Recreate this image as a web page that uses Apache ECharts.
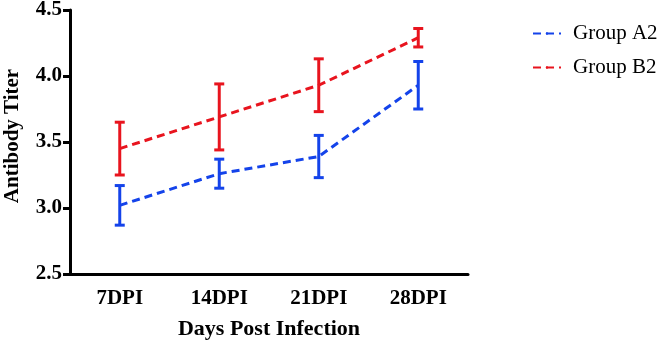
<!DOCTYPE html>
<html><head><meta charset="utf-8">
<script src="https://cdn.jsdelivr.net/npm/echarts@6/dist/echarts.min.js"></script>
<style>html,body{margin:0;padding:0;background:#fff}#c{width:660px;height:343px}</style>
</head><body><div id="c"></div>
<script>
var categories = ['7DPI', '14DPI', '21DPI', '28DPI'];
var groupA2Mean = [3.02, 3.26, 3.39, 3.93];
var groupA2Err = [0.15, 0.11, 0.16, 0.18];
var groupB2Mean = [3.45, 3.69, 3.93, 4.29];
var groupB2Err = [0.20, 0.25, 0.20, 0.07];
var yTicks = [2.5, 3.0, 3.5, 4.0, 4.5];

var blue = '#1443ea', red = '#e8141e';
var serif = 'Liberation Serif';

function errData(mean, err) {
  return mean.map(function (m, i) { return [i, m - err[i], m + err[i]]; });
}
function errSeries(name, mean, err, color) {
  return {
    type: 'custom', name: name + ' err', z: 3,
    data: errData(mean, err),
    renderItem: function (params, api) {
      var lo = api.coord([api.value(0), api.value(1)]);
      var hi = api.coord([api.value(0), api.value(2)]);
      var w = 5;
      var style = { stroke: color, lineWidth: 3 };
      return { type: 'group', children: [
        { type: 'line', shape: { x1: lo[0], y1: lo[1], x2: hi[0], y2: hi[1] }, style: style },
        { type: 'line', shape: { x1: lo[0] - w, y1: lo[1], x2: lo[0] + w, y2: lo[1] }, style: style },
        { type: 'line', shape: { x1: hi[0] - w, y1: hi[1], x2: hi[0] + w, y2: hi[1] }, style: style }
      ]};
    }
  };
}
function lineSeries(name, mean, color) {
  return {
    type: 'line', name: name, data: mean, symbol: 'none', showSymbol: false, z: 2,
    itemStyle: { color: color },
    lineStyle: { color: color, width: 3, type: [8, 5] }
  };
}

var chart = echarts.init(document.getElementById('c'));
chart.setOption({
  animation: false,
  backgroundColor: '#fff',
  grid: { left: 70, right: 192, top: 10, bottom: 69, containLabel: false, outerBoundsMode: 'none' },
  legend: {
    orient: 'vertical', left: 527, top: 18, itemWidth: 28, itemHeight: 3, itemGap: 13,
    data: ['Group A2', 'Group B2'],
    textStyle: { fontFamily: serif, fontSize: 21, color: '#000', padding: [0, 0, 0, 7] }
  },
  xAxis: {
    type: 'category', data: categories, boundaryGap: true,
    name: 'Days Post Infection', nameLocation: 'middle', nameGap: 44,
    nameTextStyle: { fontFamily: serif, fontWeight: 'bold', fontSize: 22, color: '#000' },
    axisLine: { lineStyle: { color: '#000', width: 3 } },
    axisTick: { alignWithLabel: true, length: 7, lineStyle: { color: '#000', width: 3 } },
    axisLabel: { fontFamily: serif, fontWeight: 'bold', fontSize: 21, color: '#000', margin: 14 },
    splitLine: { show: false }
  },
  yAxis: {
    type: 'value', min: 2.5, max: 4.5, interval: 0.5,
    name: 'Antibody Titer', nameLocation: 'middle', nameGap: 47,
    nameTextStyle: { fontFamily: serif, fontWeight: 'bold', fontSize: 21, color: '#000', padding: [0, 0, 0, 12] },
    axisLine: { show: true, lineStyle: { color: '#000', width: 3 } },
    axisTick: { show: true, length: 7, lineStyle: { color: '#000', width: 3 } },
    axisLabel: { fontFamily: serif, fontWeight: 'bold', fontSize: 21, color: '#000', margin: 8,
      formatter: function (v) { return v.toFixed(1); } },
    splitLine: { show: false }
  },
  series: [
    lineSeries('Group A2', groupA2Mean, blue),
    lineSeries('Group B2', groupB2Mean, red),
    errSeries('Group A2', groupA2Mean, groupA2Err, blue),
    errSeries('Group B2', groupB2Mean, groupB2Err, red)
  ]
});
</script></body></html>
